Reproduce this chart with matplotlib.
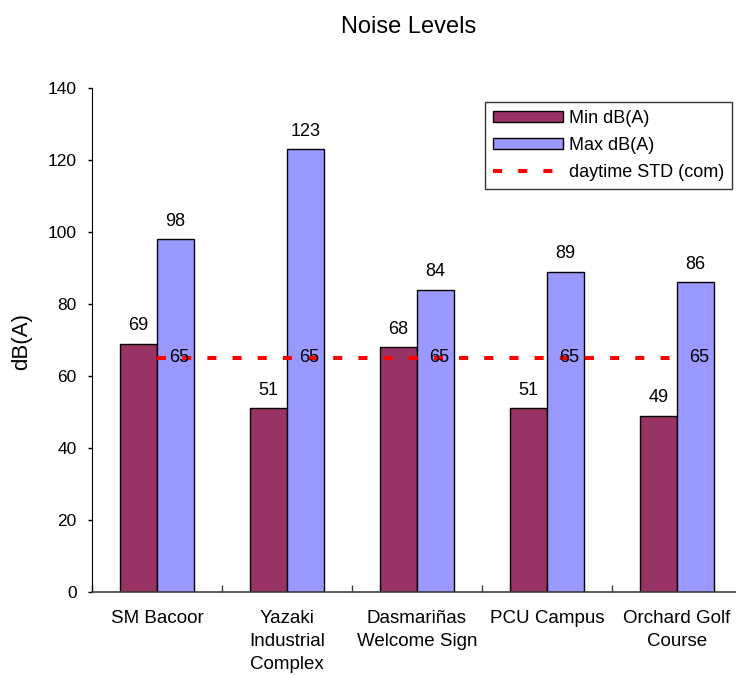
import matplotlib
matplotlib.use("Agg")
import matplotlib.pyplot as plt
import numpy as np

plt.rcParams['font.family'] = ['Liberation Sans', 'DejaVu Sans']

categories = ["SM Bacoor", "Yazaki\nIndustrial\nComplex", "Dasmariñas\nWelcome Sign",
              "PCU Campus", "Orchard Golf\nCourse"]
min_db = [69, 51, 68, 51, 49]
max_db = [98, 123, 84, 89, 86]
std_day = [65, 65, 65, 65, 65]
series_names = ["Min dB(A)", "Max dB(A)", "daytime STD (com)"]
yticks = [0, 20, 40, 60, 80, 100, 120, 140]

W, H = 736, 675
fig = plt.figure(figsize=(W / 100, H / 100), dpi=100)
ax = fig.add_axes([92 / W, 83 / H, 650 / W, 504 / H])

x = np.arange(len(categories))
w = 0.285
b1 = ax.bar(x - w / 2, min_db, w, color='#993366', edgecolor='black', linewidth=1.0,
            label=series_names[0], zorder=2)
b2 = ax.bar(x + w / 2, max_db, w, color='#9999FF', edgecolor='black', linewidth=1.0,
            label=series_names[1], zorder=2)
ln, = ax.plot(x, std_day, color='#FF0000', linewidth=2.9, linestyle=(0, (2.25, 4.0)),
              dash_capstyle='butt', label=series_names[2], zorder=3)

for xi, v in zip(x - w / 2, min_db):
    ax.annotate(str(v), (xi, v), xytext=(0, 13), textcoords='offset points',
                ha='center', va='center', fontsize=13, zorder=4)
for xi, v in zip(x + w / 2, max_db):
    ax.annotate(str(v), (xi, v), xytext=(0, 13), textcoords='offset points',
                ha='center', va='center', fontsize=13, zorder=4)
for xi, v in zip(x, std_day):
    ax.annotate(str(v), (xi, v), xytext=(9, 0), textcoords='offset points',
                ha='left', va='center', fontsize=13, zorder=4)

ax.set_xlim(-0.5, len(categories) - 0.5)
ax.set_ylim(0, 140)
ax.set_yticks(yticks)
ax.set_yticklabels([str(t) for t in yticks], fontsize=12.5)
ax.tick_params(axis='y', direction='out', length=3, width=1, pad=8)

ax.set_xticks(x)
ax.set_xticklabels(categories, fontsize=13.5, linespacing=1.45)
ax.tick_params(axis='x', which='major', length=0, pad=13)
ax.set_xticks(np.arange(len(categories) + 1) - 0.5, minor=True)
ax.tick_params(axis='x', which='minor', direction='in', length=5, width=1, color='#404040')

ax.spines['top'].set_visible(False)
ax.spines['right'].set_visible(False)
ax.spines['left'].set_color('black')
ax.spines['bottom'].set_color('#404040')
ax.spines['bottom'].set_linewidth(1.2)

leg = ax.legend(handles=[b1, b2, ln], loc='upper right',
                bbox_to_anchor=(732 / W, 1 - 102 / H), bbox_transform=fig.transFigure,
                fontsize=13, frameon=True, fancybox=False, edgecolor='black',
                handlelength=3.9, handleheight=0.55, labelspacing=0.55,
                handletextpad=0.3, borderaxespad=0, borderpad=0.45)
leg.get_frame().set_linewidth(1.0)

fig.text(409 / W, 1 - 27 / H, "Noise Levels", fontsize=17, ha='center', va='center')
fig.text(22 / W, 1 - 341 / H, "dB(A)", fontsize=16, ha='center', va='center', rotation=90)

fig.savefig("out.png", dpi=100)
